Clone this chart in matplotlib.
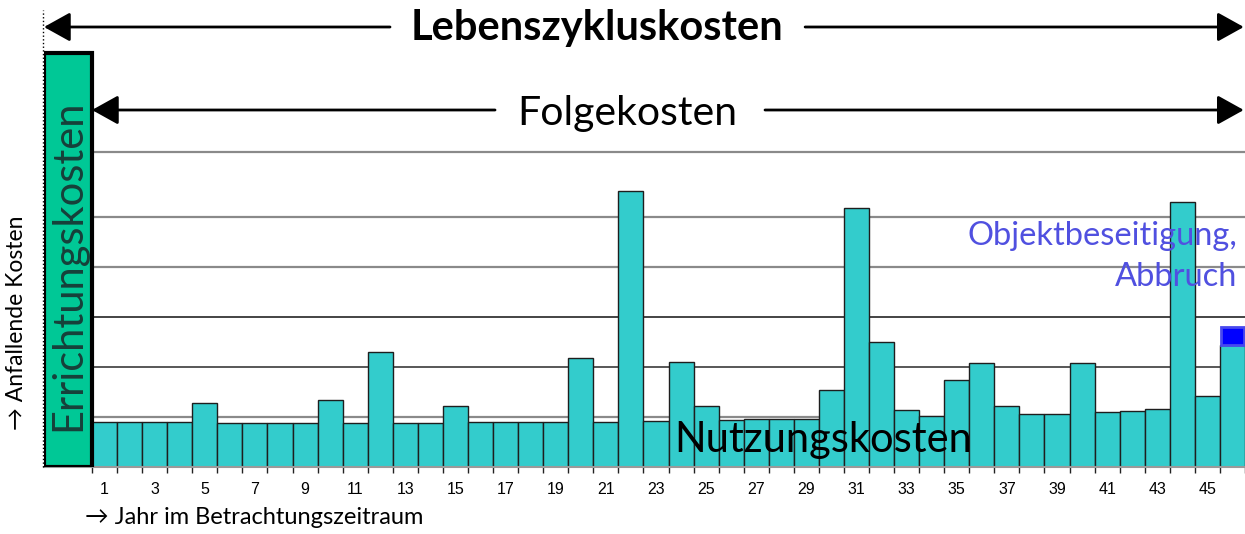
import matplotlib.pyplot as plt
import numpy as np

# Nutzungskosten per year (1 unit = one grid step)
jahre = list(range(1, 47))
nutzung = [0.91, 0.91, 0.91, 0.91, 1.29, 0.89, 0.89, 0.89, 0.89, 1.35,
           0.89, 2.30, 0.89, 0.89, 1.23, 0.91, 0.91, 0.91, 0.91, 2.19,
           0.91, 5.52, 0.93, 2.11, 1.23, 0.95, 0.97, 0.97, 0.97, 1.54,
           5.19, 2.51, 1.14, 1.03, 1.75, 2.09, 1.23, 1.07, 1.07, 2.09,
           1.11, 1.13, 1.16, 5.31, 1.42, 2.44]
abbruch = 0.36          # Objektbeseitigung on top of the last year
errichtung = 8.28       # Errichtungskosten (year 0)
grid_vals = [1, 2, 3, 4, 5, 6.3]
grid_cols = ['#8a8a8a', '#2a2a2a', '#111111', '#8a8a8a', '#8a8a8a', '#8a8a8a']
tick_labels = [str(j) for j in jahre if j % 2 == 1]

CAL = ['Lato', 'DejaVu Sans']

fig = plt.figure(figsize=(12.45, 5.34), dpi=100)
ax = fig.add_axes([44 / 1245, 67 / 534, 1201 / 1245, 467 / 534])
x_left = 0.5 - 48 / 25.065
ax.set_xlim(x_left, 46.5)
ax.set_ylim(0, 467 / 50)

# grid
for v, c in zip(grid_vals, grid_cols):
    ax.hlines(v, 0.5, 46.5, colors=c, lw=1.6 if c == '#8a8a8a' else 1.1, zorder=1)

# bars
ax.bar(jahre, nutzung, width=1, color='#33CCCC', edgecolor='#1e1e1e', lw=1, zorder=2)
ax.bar(jahre[-1], abbruch, bottom=nutzung[-1], width=0.92, color='#0000FF',
       edgecolor='#4848EE', lw=2, zorder=3)
ax.bar((x_left + 0.5) / 2, errichtung, width=0.5 - x_left, color='#00C896',
       edgecolor='black', lw=3, zorder=4)

# dotted start line
ax.plot([x_left - 0.04] * 2, [0, 9.14], ls=':', color='black', lw=1, clip_on=False, zorder=5)

# axes styling
for s in ['left', 'right', 'top']:
    ax.spines[s].set_visible(False)
ax.spines['bottom'].set_color('#9a9a9a')
ax.spines['bottom'].set_linewidth(1.5)
ax.set_yticks([])
ax.set_xticks(np.arange(0.5, 46.6, 1))
ax.set_xticklabels([])
ax.tick_params(axis='x', which='major', length=4, width=1, color='#222222', direction='out')
ax.set_xticks([j for j in jahre if j % 2 == 1], minor=True)
ax.set_xticklabels(tick_labels, minor=True, fontsize=11.5, family='Liberation Sans')
ax.tick_params(axis='x', which='minor', length=0, pad=11)

# arrows
def arrow(x0, x1, y):
    ax.annotate('', xy=(x1, y), xytext=(x0, y),
                arrowprops=dict(arrowstyle='-|>,head_length=0.9,head_width=0.5',
                                mutation_scale=18, lw=2, color='black',
                                shrinkA=0, shrinkB=0), annotation_clip=False)

arrow(12.39, x_left, 8.8)
arrow(28.95, 46.45, 8.8)
arrow(16.58, 0.5, 7.14)
arrow(27.35, 46.45, 7.14)

ax.text(20.65, 8.78, 'Lebenszykluskosten', ha='center', va='center',
        fontsize=30, fontweight='bold', family=CAL)
ax.text(21.84, 7.08, 'Folgekosten', ha='center', va='center', fontsize=29.5, family=CAL)
ax.text((x_left + 0.5) / 2, 4.04, 'Errichtungskosten', ha='center', va='center',
        rotation=90, fontsize=30, color='#17403a', family=CAL, zorder=6)
ax.text(29.67, 0.54, 'Nutzungskosten', ha='center', va='center', fontsize=30,
        family=CAL, zorder=6)
ax.text(46.18, 4.62, 'Objektbeseitigung,', ha='right', va='center', fontsize=23.5,
        color='#5050E0', family=CAL, zorder=6)
ax.text(46.18, 3.80, 'Abbruch', ha='right', va='center', fontsize=23.5,
        color='#5050E0', family=CAL, zorder=6)

fig.text(17 / 1245, 1 - 323 / 534, '\u2192 Anfallende Kosten', rotation=90,
         ha='center', va='center', fontsize=16.5, family=CAL)
fig.text(85 / 1245, 1 - 518 / 534, '\u2192 Jahr im Betrachtungszeitraum',
         ha='left', va='center', fontsize=17, family=CAL)

fig.savefig('out.png', dpi=100)
